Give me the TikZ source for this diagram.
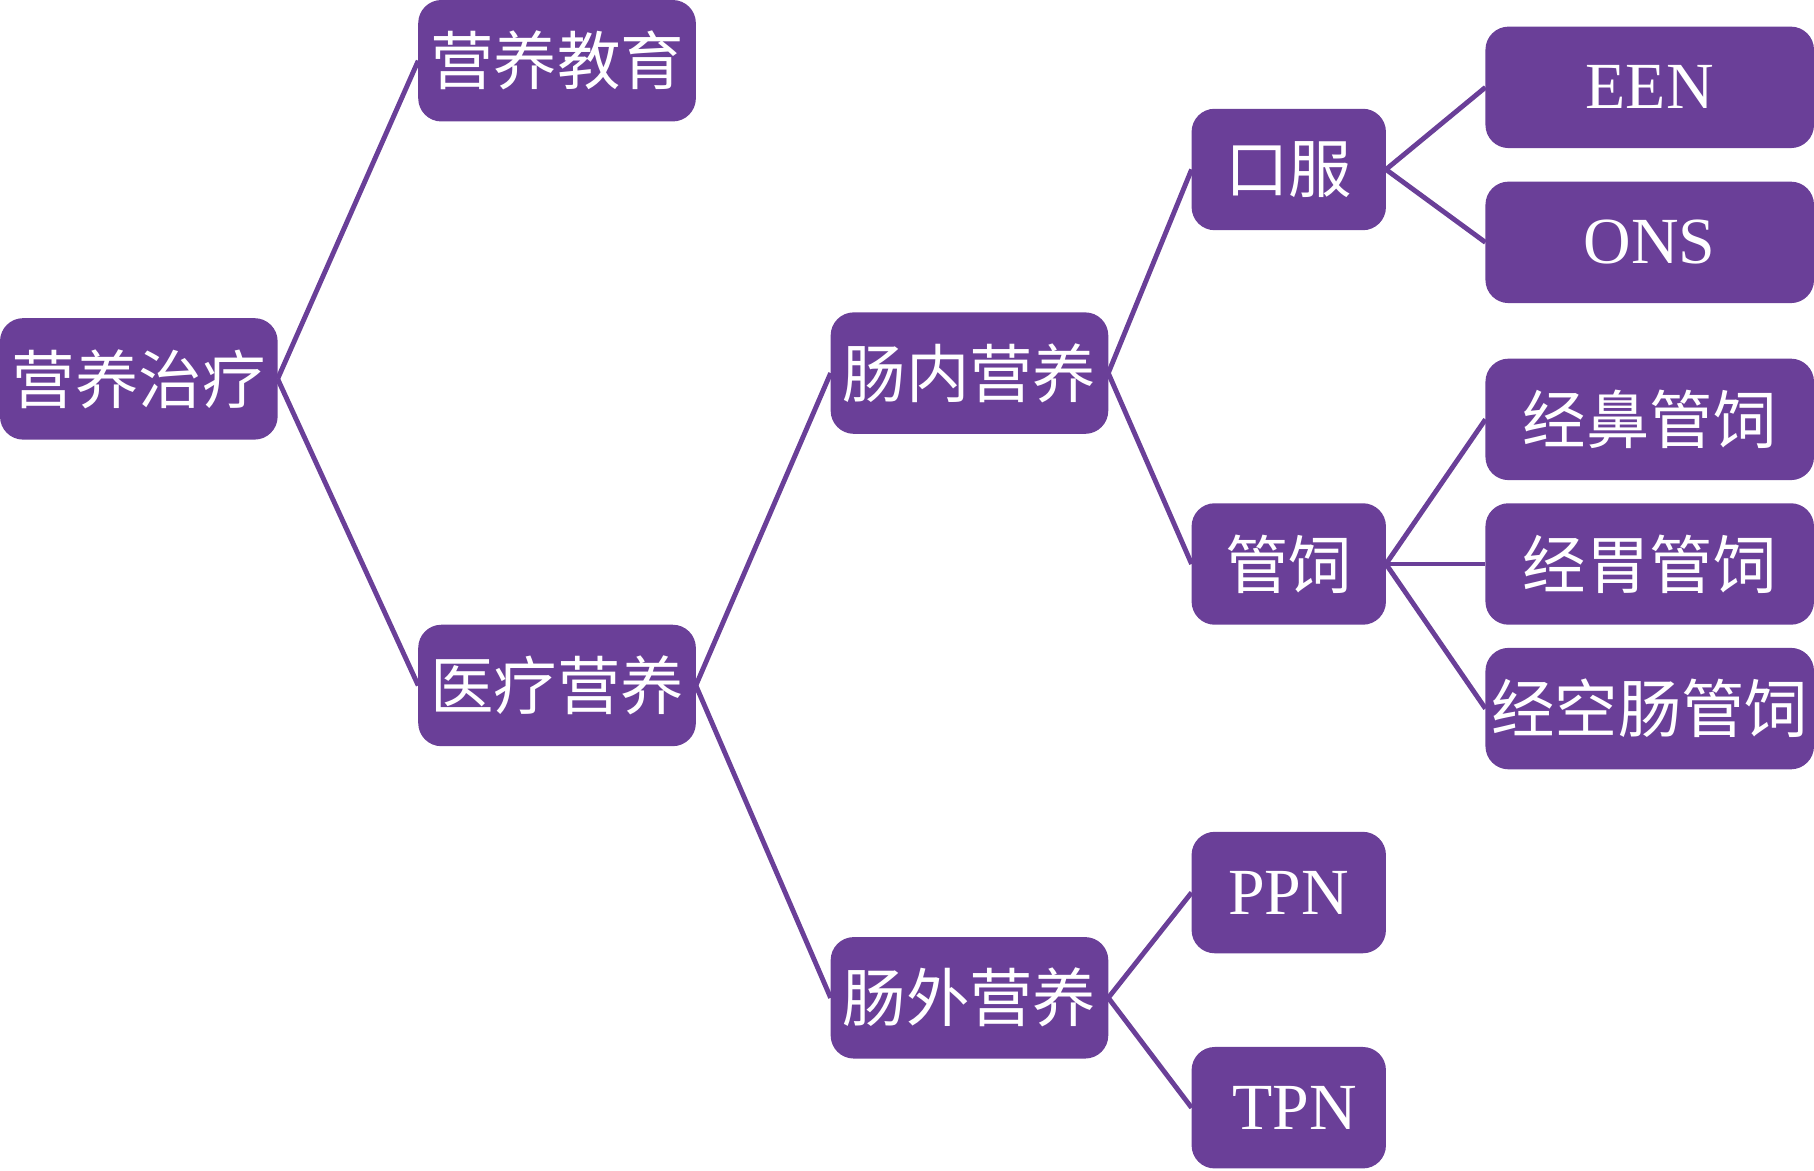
\documentclass[tikz,border=0pt]{standalone}
\usepackage{fontspec}
\setmainfont{Liberation Serif}
\newfontfamily\cjk{Noto Sans CJK SC}
\definecolor{nutpurple}{RGB}{106,63,152}

\begin{document}
\begin{tikzpicture}[x=0.1mm, y=-0.1mm, main node/.style={rectangle,rounded corners=2mm,fill=nutpurple,text=white,inner sep=0pt,outer sep=0pt,minimum height=10.5mm},
mid node/.style={main node,minimum width=24mm},
small node/.style={main node,minimum width=16.8mm},
leaf node/.style={main node,minimum width=28.4mm}]%
\useasboundingbox (0,0) rectangle (1568,1012);
\begin{scope}[every node/.style={font=\fontsize{15.6pt}{18pt}\selectfont}]
\node[mid node] (zl) at (120,327.5) {\cjk 营养治疗};
\node[mid node] (jy) at (481.5,52.5) {\cjk 营养教育};
\node[mid node] (yl) at (481.5,592.5) {\cjk 医疗营养};
\node[mid node] (cn) at (838,322.5) {\cjk 肠内营养};
\node[mid node] (cw) at (838,862.5) {\cjk 肠外营养};
\node[small node] (kf) at (1114,146.5) {\cjk 口服};
\node[small node] (gs) at (1114,487.5) {\cjk 管饲};
\node[small node] (ppn) at (1114,771.5) {\fontsize{16.2pt}{18pt}\selectfont PPN\hspace{1mm}};
\node[small node] (tpn) at (1114,957.5) {\fontsize{16.2pt}{18pt}\selectfont \hspace{1mm}TPN};
\node[leaf node] (een) at (1426,75.5) {\fontsize{16.2pt}{18pt}\selectfont EEN};
\node[leaf node] (ons) at (1426,209.5) {\fontsize{16.2pt}{18pt}\selectfont ONS};
\node[leaf node] (jb) at (1426,362.5) {\cjk 经鼻管饲};
\node[leaf node] (jw) at (1426,487.5) {\cjk 经胃管饲};
\node[leaf node] (jk) at (1426,612.5) {\cjk 经空肠管饲};
\end{scope}
\begin{scope}[nutpurple, line width=1.2pt]
\draw (zl.east) edge (jy.west);
\draw (zl.east) edge (yl.west);
\draw (yl.east) edge (cn.west);
\draw (yl.east) edge (cw.west);
\draw (cn.east) edge (kf.west);
\draw (cn.east) edge (gs.west);
\draw (kf.east) edge (een.west);
\draw (kf.east) edge (ons.west);
\draw (gs.east) edge (jb.west);
\draw (gs.east) edge (jw.west);
\draw (gs.east) edge (jk.west);
\draw (cw.east) edge (ppn.west);
\draw (cw.east) edge (tpn.west);
\end{scope}
\end{tikzpicture}
\end{document}
